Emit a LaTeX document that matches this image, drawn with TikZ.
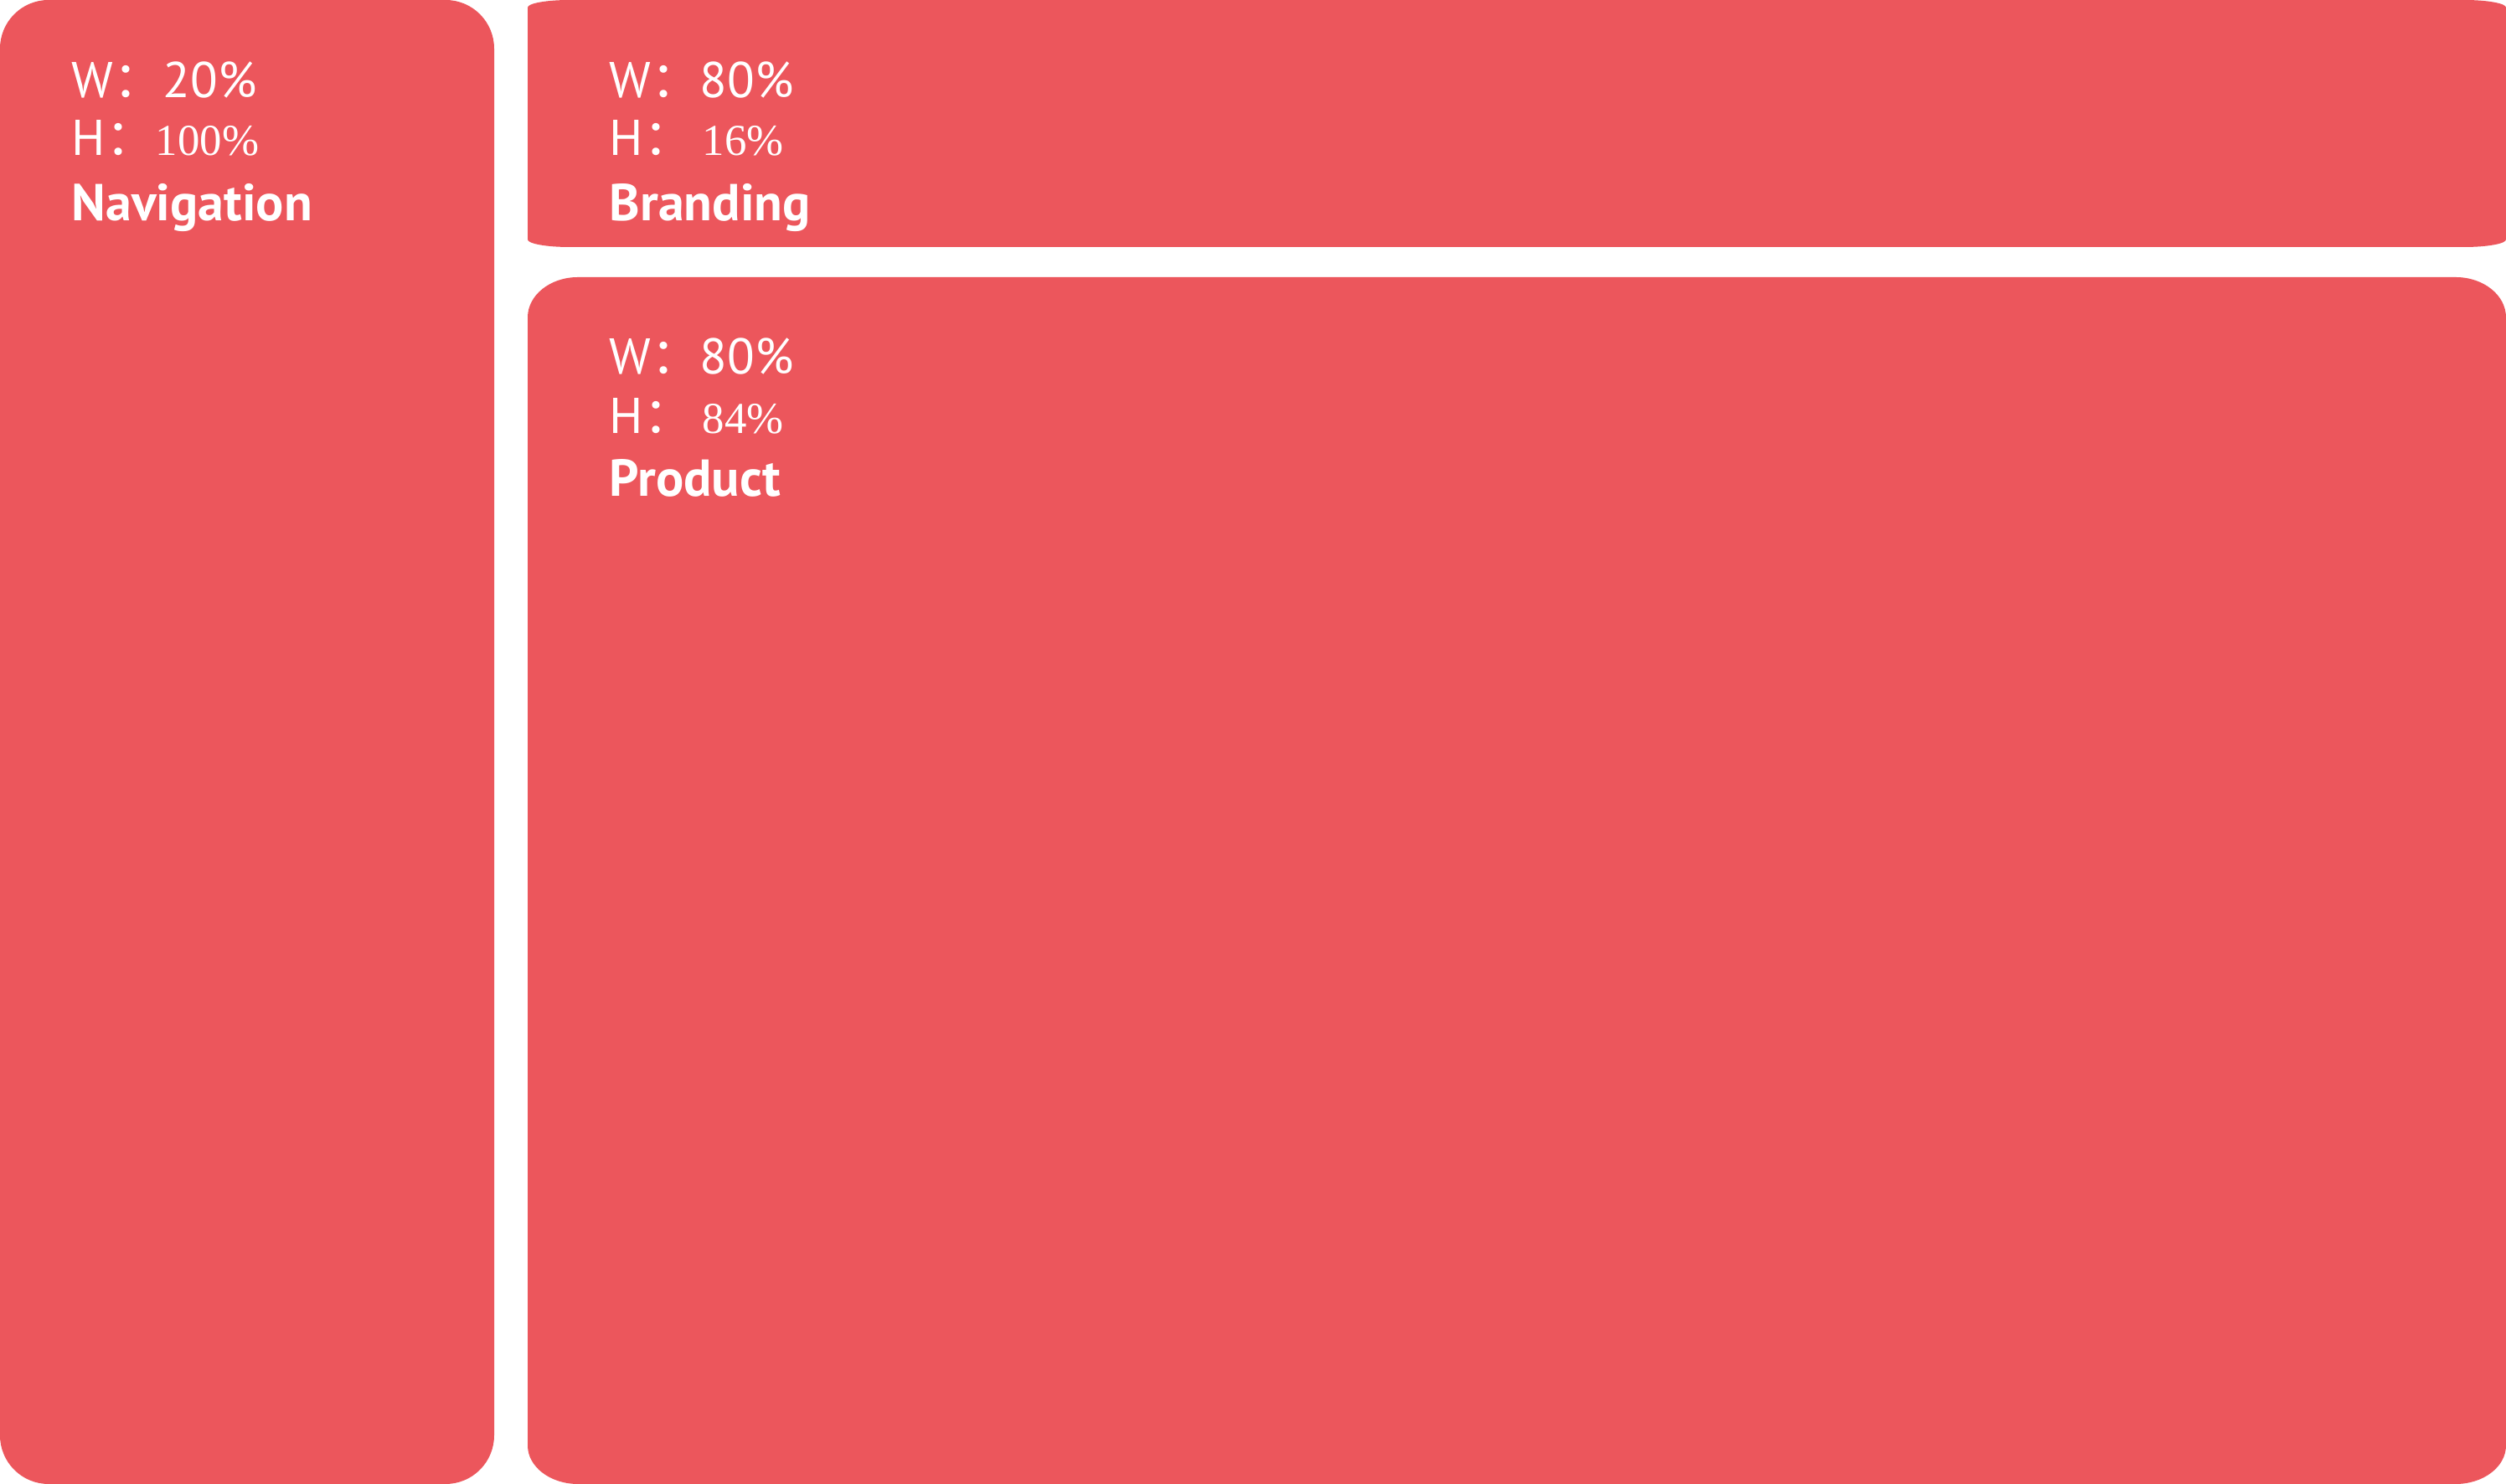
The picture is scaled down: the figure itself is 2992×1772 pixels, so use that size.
\documentclass[tikz,border=0pt]{standalone}
\usepackage{fontspec}
\setmainfont{PT Sans}
\newfontfamily\cjk{Noto Sans CJK SC}
\newfontfamily\numserif{Liberation Serif}
\definecolor{panelred}{HTML}{EC565C}
\begin{document}
\begin{tikzpicture}[x=0.25pt,y=-0.25pt,
  lbl/.style={anchor=base west,inner sep=0pt,text=white,font=\fontsize{15}{18}\selectfont},
  sernum/.style={anchor=base west,inner sep=0pt,text=white,font=\numserif\fontsize{13.2}{16}\selectfont},
  ttl/.style={anchor=base west,inner sep=0pt,text=white,font=\bfseries\fontsize{15.5}{18}\selectfont}]
\useasboundingbox (0,0) rectangle (2992,1772);
\fill[white] (0,0) rectangle (2992,1772);
% Navigation panel
\fill[panelred,rounded corners=14.5pt] (0,0) rectangle (590,1772);
% Branding panel
\fill[panelred] (680,0) -- (2942,0) .. controls (2969.6,0) and (2992,4) .. (2992,9)
  -- (2992,286) .. controls (2992,291) and (2969.6,295) .. (2942,295)
  -- (680,295) .. controls (652.4,295) and (630,291) .. (630,286)
  -- (630,9) .. controls (630,4) and (652.4,0) .. (680,0) -- cycle;
% Product panel
\fill[panelred] (690,331) -- (2932,331) .. controls (2965.1,331) and (2992,352.5) .. (2992,379)
  -- (2992,1726) .. controls (2992,1751.4) and (2965.1,1772) .. (2932,1772)
  -- (690,1772) .. controls (656.9,1772) and (630,1751.4) .. (630,1726)
  -- (630,379) .. controls (630,352.5) and (656.9,331) .. (690,331) -- cycle;
% Navigation texts
\node[lbl] (navW) at (85,117) {W{\cjk ：}};
\node[lbl] (navWv) at (194,117) {20\%};
\node[lbl] (navH) at (85,186) {H{\cjk ：}};
\node[sernum] (navHv) at (185,186) {100\%};
\node[ttl] (navT) at (85,264) {Navigation};
% Branding texts
\node[lbl] (brW) at (727,117) {W{\cjk ：}};
\node[lbl] (brWv) at (835,117) {80\%};
\node[lbl] (brH) at (727,186) {H{\cjk ：}};
\node[sernum] (brHv) at (838,186) {16\%};
\node[ttl] (brT) at (727,264) {Branding};
% Product texts
\node[lbl] (prW) at (727,447) {W{\cjk ：}};
\node[lbl] (prWv) at (835,447) {80\%};
\node[lbl] (prH) at (727,518) {H{\cjk ：}};
\node[sernum] (prHv) at (838,518) {84\%};
\node[ttl] (prT) at (727,593) {Product};
\end{tikzpicture}
\end{document}
